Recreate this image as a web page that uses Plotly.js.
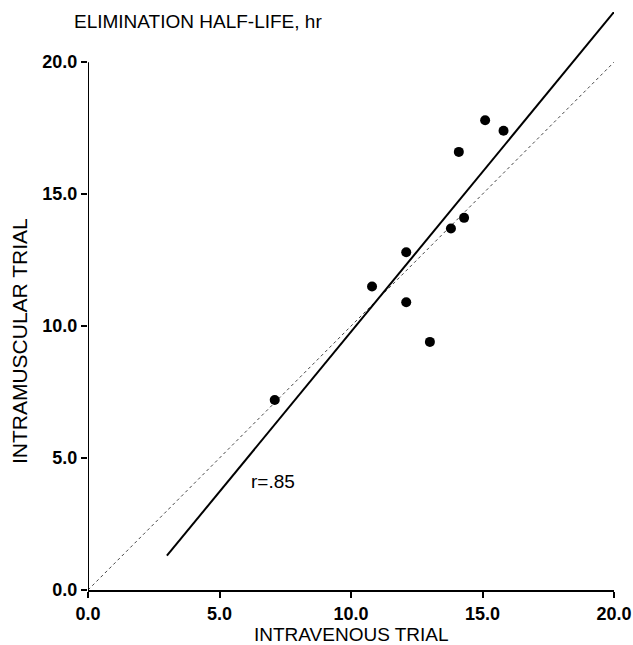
<!DOCTYPE html>
<html>
<head>
<meta charset="utf-8">
<script src="https://cdn.plot.ly/plotly-3.0.1.min.js"></script>
<style>html,body{margin:0;padding:0;background:#fff}#chart{width:633px;height:645px}</style>
</head>
<body>
<div id="chart"></div>
<script>
// Data
var ivTrial = [15.1, 15.8, 14.1, 14.3, 13.8, 12.1, 10.8, 12.1, 13.0, 7.1];
var imTrial = [17.8, 17.4, 16.6, 14.1, 13.7, 12.8, 11.5, 10.9, 9.4, 7.2];
var fitX = [3.0, 20.0];
var fitY = [1.3, 21.9];
var identityX = [0, 20];
var identityY = [0, 20];
var tickVals = [0, 5, 10, 15, 20];
var tickText = ["0.0", "5.0", "10.0", "15.0", "20.0"];
var rLabel = "r=.85";

var font = "Liberation Sans, Arial, sans-serif";

var traces = [
  {x: identityX, y: identityY, mode: "lines", line: {color: "#444", width: 1, dash: "dot"}, hoverinfo: "skip"},
  {x: fitX, y: fitY, mode: "lines", line: {color: "#000", width: 2}, hoverinfo: "skip"},
  {x: ivTrial, y: imTrial, mode: "markers", marker: {color: "#000", size: 10, symbol: "circle"}, cliponaxis: false}
];

var layout = {
  width: 633, height: 645,
  margin: {l: 88, r: 19, t: 12, b: 55},
  paper_bgcolor: "#fff", plot_bgcolor: "#fff",
  showlegend: false,
  font: {family: font, color: "#000"},
  xaxis: {
    range: [0, 20], showgrid: false, zeroline: false,
    showline: true, linecolor: "#000", linewidth: 2,
    ticks: "outside", ticklen: 6, tickwidth: 2, tickcolor: "#000",
    tickvals: tickVals, ticktext: tickText, ticklabeloverflow: "allow",
    tickfont: {family: font, size: 18, color: "#000", weight: "bold"}
  },
  yaxis: {
    range: [0, 21.9], showgrid: false, zeroline: false, showline: false,
    ticks: "outside", ticklen: 6, tickwidth: 2, tickcolor: "#000",
    tickvals: tickVals, ticktext: tickText, ticklabeloverflow: "allow",
    tickfont: {family: font, size: 18, color: "#000", weight: "bold"}
  },
  shapes: [
    {type: "line", xref: "x", yref: "y", x0: 0, x1: 0, y0: 0, y1: 20, line: {color: "#000", width: 2}}
  ],
  annotations: [
    {text: "ELIMINATION HALF-LIFE, hr", xref: "paper", yref: "paper", x: -0.03, y: 0.984, xanchor: "left", yanchor: "middle",
     showarrow: false, font: {family: font, size: 19, color: "#000"}},
    {text: "INTRAVENOUS TRIAL", xref: "paper", yref: "paper", x: 0.5, y: -0.077, xanchor: "center", yanchor: "middle",
     showarrow: false, font: {family: font, size: 19, color: "#000"}},
    {text: "INTRAMUSCULAR TRIAL", xref: "paper", yref: "paper", x: -0.13, y: 0.43, xanchor: "center", yanchor: "middle",
     textangle: -90, showarrow: false, font: {family: font, size: 21, color: "#000"}},
    {text: rLabel, xref: "x", yref: "y", x: 7.05, y: 4.1, showarrow: false, font: {family: font, size: 19, color: "#000"}}
  ]
};

Plotly.newPlot("chart", traces, layout, {displayModeBar: false, staticPlot: true});
</script>
</body>
</html>
